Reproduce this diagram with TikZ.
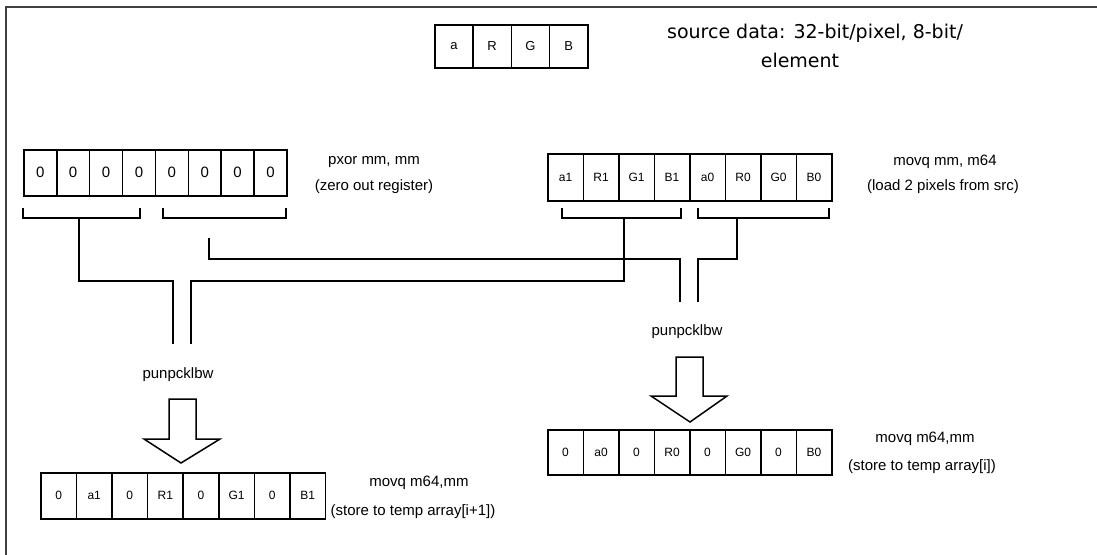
\documentclass[tikz,border=0pt]{standalone}
\usepackage{fontspec}
\setmainfont{Liberation Sans}
\newfontfamily\srcfont{DejaVu Sans}
\begin{document}
\begin{tikzpicture}[x=1pt,y=-1pt,
  wire/.style={line width=1.6pt,line join=miter},
  frame/.style={line width=2.6pt,draw=black!75},
  cell/.style={draw,line width=1.6pt,inner sep=0pt,anchor=north west},
  lbl/.style={font=\fontsize{15}{17}\selectfont,inner sep=0pt,align=center},
  blockarrow/.style={draw,line width=1.5pt,fill=white,line join=miter}]
\useasboundingbox (0,0) rectangle (1097,554);
% frame (right and bottom edges lie outside the picture)
\draw[frame] (6,560) -- (6,7) -- (1110,7);

% source pixel
\foreach \t [count=\i from 0] in {a,R,G,B}
  \node[cell,minimum width=38.25pt,minimum height=43pt,font=\fontsize{13}{15}\selectfont]
    (src\i) at ({434+\i*38.25},24) {\t};
\node[font=\srcfont\fontsize{19}{21}\selectfont,inner sep=0pt] (srcA) at (815,33) {source data: 32-bit/pixel, 8-bit/};
\node[font=\srcfont\fontsize{19}{21}\selectfont,inner sep=0pt] (srcB) at (800,60) {element};

% zero register
\foreach \i in {0,...,7}
  \node[cell,minimum width=32.9pt,minimum height=46pt,font=\fontsize{15}{17}\selectfont]
    (z\i) at ({23+\i*32.9},149) {0};
\node[lbl] (pxor) at (374,162) {pxor mm, mm};
\node[lbl] (pxorb) at (374,187) {(zero out register)};

% loaded register
\foreach \t [count=\i from 0] in {a1,R1,G1,B1,a0,R0,G0,B0}
  \node[cell,minimum width=35.5pt,minimum height=47pt,font=\fontsize{12}{14}\selectfont]
    (m\i) at ({547+\i*35.5},153) {\t};
\node[lbl] (movA) at (945,162) {movq mm, m64};
\node[lbl] (movAb) at (943,187) {(load 2 pixels from src)};

% brackets
\coordinate (zlS) at (79,218);
\coordinate (zrS) at (209,238);
\coordinate (mhS) at (624,218);
\coordinate (mlS) at (737,218);
\draw[wire] (23,208) -- (23,218) -- (140,218) -- (140,208);
\draw[wire] (163,208) -- (163,218) -- (286,218) -- (286,208);
\draw[wire] (562,208) -- (562,218) -- (681,218) -- (681,208);
\draw[wire] (698,208) -- (698,218) -- (829,218) -- (829,208);

% unpack inputs
\coordinate (inL1) at (173,344);
\coordinate (inL2) at (191,344);
\coordinate (inR1) at (680,302);
\coordinate (inR2) at (698,302);
\draw[wire] (zlS) |- (173,281) -- (inL1);
\draw[wire] (mhS) |- (191,281) -- (inL2);
\draw[wire] (zrS) |- (680,259) -- (inR1);
\draw[wire] (mlS) |- (698,259) -- (inR2);

\node[lbl] (unpL) at (178,375) {punpcklbw};
\node[lbl] (unpR) at (687,332) {punpcklbw};

% block arrows
\draw[blockarrow] (169,399) -- (196,399) -- (196,439) -- (220,439) -- (181,463) -- (144,439) -- (169,439) -- cycle;
\draw[blockarrow] (676,357) -- (703,357) -- (703,396) -- (727,396) -- (690,422) -- (651,396) -- (676,396) -- cycle;

% result registers
\foreach \t [count=\i from 0] in {0,a1,0,R1,0,G1,0,B1}
  \node[cell,minimum width=35.6pt,minimum height=46pt,font=\fontsize{12}{14}\selectfont]
    (h\i) at ({40+\i*35.6},472) {\t};
\node[lbl] (movB) at (419,483) {movq m64,mm};
\node[lbl] (movBb) at (413,512) {(store to temp array[i+1])};

\foreach \t [count=\i from 0] in {0,a0,0,R0,0,G0,0,B0}
  \node[cell,minimum width=35.5pt,minimum height=45pt,font=\fontsize{12}{14}\selectfont]
    (l\i) at ({547+\i*35.5},429) {\t};
\node[lbl] (movC) at (925,439) {movq m64,mm};
\node[lbl] (movCb) at (922,467) {(store to temp array[i])};
\end{tikzpicture}
\end{document}
